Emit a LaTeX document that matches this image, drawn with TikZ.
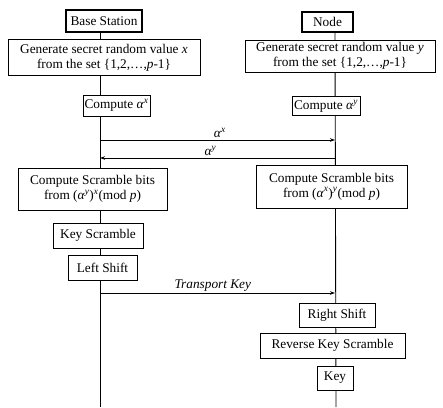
\documentclass[tikz,border=0pt]{standalone}
\usepackage{fontspec}
\setmainfont{Liberation Serif}
\usetikzlibrary{backgrounds,arrows.meta}
\newcommand\alp[1]{\textit{α}\textsuperscript{\textit{#1}}}
\begin{document}
\begin{tikzpicture}[x=1pt,y=-1pt,
  box/.style={draw, fill=white, line width=0.9pt, inner sep=0pt, align=center,
    font=\fontsize{13.3}{15}\selectfont},
  head/.style={box, line width=2pt},
  life/.style={line width=0.9pt},
  msg/.style={line width=0.9pt, -{Stealth[length=5pt,width=3.5pt]}},
  lbl/.style={font=\fontsize{13.3}{15}\selectfont, inner sep=1.5pt}]
\useasboundingbox (0,0) rectangle (443,407);
\node[head, minimum width=76pt, minimum height=22pt] (bs) at (104,21) {Base Station};
\node[box, minimum width=192pt, minimum height=36pt] (gx) at (104,57.5)
  {Generate secret random value \textit{x}\\from the set \{1,2,\ldots,\textit{p}-1\}};
\node[box, minimum width=67pt, minimum height=21pt] (cx) at (116.5,105.5) {Compute \alp{x}};
\node[head, minimum width=51pt, minimum height=20pt] (nd) at (327.5,22) {Node};
\node[box, minimum width=190pt, minimum height=32pt] (gy) at (340,56)
  {Generate secret random value \textit{y}\\from the set \{1,2,\ldots,\textit{p}-1\}};
\node[box, minimum width=68pt, minimum height=19pt] (cy) at (326,106) {Compute \alp{y}};
\node[box, minimum width=149pt, minimum height=42pt] (csl) at (92.5,189)
  {Compute Scramble bits\\from (\alp{y})\textsuperscript{\textit{x}}(mod \textit{p})};
\node[box, minimum width=151pt, minimum height=43pt] (csr) at (331.5,186.5)
  {Compute Scramble bits\\from (\alp{x})\textsuperscript{\textit{y}}(mod \textit{p})};
\node[box, minimum width=90pt, minimum height=25pt] (ks) at (98,235.5) {Key Scramble};
\node[box, minimum width=69pt, minimum height=25pt] (ls) at (102.5,267.5) {Left Shift};
\node[box, minimum width=76pt, minimum height=24pt] (rs) at (337,315) {Right Shift};
\node[box, minimum width=145pt, minimum height=25pt] (rks) at (332.5,345.5) {Reverse Key Scramble};
\node[box, minimum width=36pt, minimum height=24pt] (key) at (335,378) {Key};
\coordinate (Lbot) at (100,407);
\coordinate (Rbot) at (336,407);
\coordinate (ax1) at (100,140);
\coordinate (ax2) at (335,140);
\coordinate (ay1) at (335,158);
\coordinate (ay2) at (100,158);
\coordinate (tk1) at (100,293);
\coordinate (tk2) at (335,293);
\begin{scope}[on background layer]
\draw[life] (bs.south -| Lbot) -- (Lbot);
\draw[life] (nd.south -| ax2) -- (Rbot);
\end{scope}
\draw[msg] (ax1) -- node[lbl, above, pos=0.51] {\alp{x}} (ax2);
\draw[msg] (ay1) -- node[lbl, above, pos=0.53] {\alp{y}} (ay2);
\draw[msg] (tk1) -- node[lbl, above, pos=0.48] {\textit{Transport Key}} (tk2);
\end{tikzpicture}
\end{document}
